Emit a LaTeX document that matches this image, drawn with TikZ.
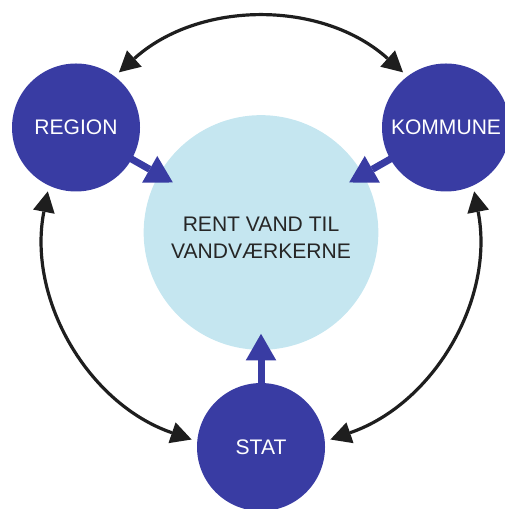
\documentclass[tikz,border=0pt]{standalone}
\usepackage{fontspec}
\setmainfont{Liberation Sans}
\usetikzlibrary{arrows.meta,positioning}
\definecolor{ink}{HTML}{393CA3}
\definecolor{water}{HTML}{C5E6F0}
\definecolor{wire}{HTML}{1E1E1E}
\definecolor{note}{HTML}{262626}

\begin{document}
\begin{tikzpicture}[x=0.75pt,y=0.75pt,on grid,
  font=\fontsize{15.8pt}{20pt}\selectfont,
  hub/.style={circle,fill=water,minimum size=176pt,inner sep=0pt,outer sep=0pt,align=center,text=note},
  actor/.style={circle,fill=ink,minimum size=96pt,inner sep=0pt,outer sep=0pt,text=white},
  feed/.style={color=ink,line width=5.25pt,-{Triangle[length=20pt,width=23pt,line width=0pt,fill=ink]},shorten >=-12pt,shorten <=-2pt},
  link/.style={color=wire,line width=2.4pt,{Triangle[length=15.5pt,width=16.5pt,line width=0pt,fill=wire]}-{Triangle[length=15.5pt,width=16.5pt,line width=0pt,fill=wire]},shorten >=4.5pt,shorten <=4.5pt}]
\useasboundingbox (0,0) rectangle (505,509);
\node[hub] (hub) at (261,276.5) {\rule{0pt}{19pt}RENT VAND TIL\\VANDVÆRKERNE};
\node[actor] (region) [above left=78.75pt and 138.75pt of hub] {REGION};
\node[actor] (kommune) [above right=78.75pt and 138.75pt of hub] {KOMMUNE};
\node[actor] (stat) [below=160.9pt of hub] {STAT};
\path[feed]
(region) edge (hub)
(kommune) edge (hub)
(stat) edge (hub);
\path[link]
(region.53) edge[out=42,in=138] (kommune.127)
(region.245) edge[out=259,in=161] (stat.175)
(kommune.295) edge[out=281,in=19] (stat.5);
\end{tikzpicture}
\end{document}
